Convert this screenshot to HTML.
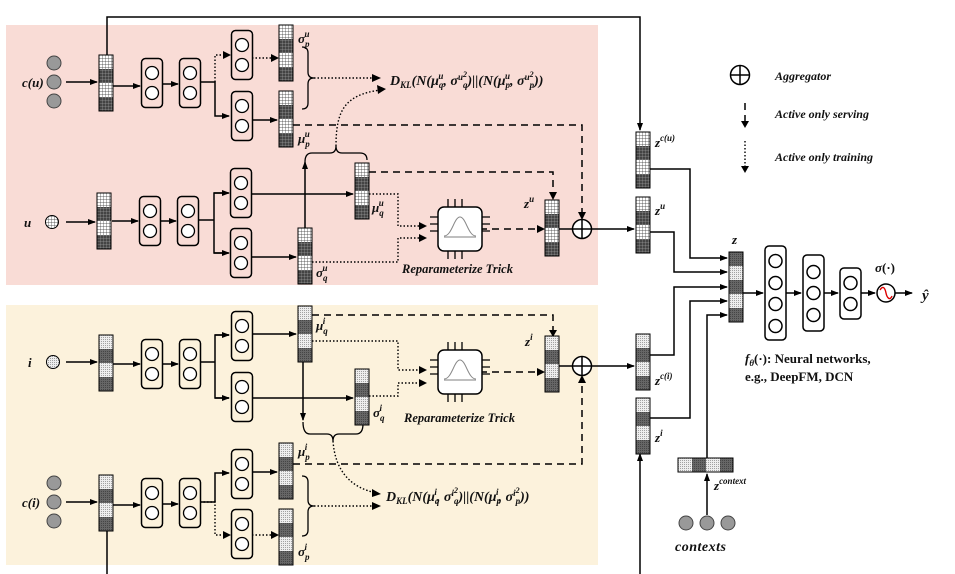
<!DOCTYPE html>
<html><head><meta charset="utf-8">
<style>
html,body{margin:0;padding:0;background:#fff;}
svg{display:block;font-family:"Liberation Serif",serif;}
.t{font-weight:bold;font-style:italic;}
</style></head><body>
<svg width="955" height="574" viewBox="0 0 955 574" xmlns="http://www.w3.org/2000/svg">
<defs>
<pattern id="wg" width="3" height="3" patternUnits="userSpaceOnUse"><rect width="3" height="3" fill="#fff"/><path d="M0 0H3M0 0V3" stroke="#333" stroke-width="0.7"/></pattern>
<pattern id="dg" width="3" height="3" patternUnits="userSpaceOnUse"><rect width="3" height="3" fill="#444"/><path d="M0 0H3M0 0V3" stroke="#bbb" stroke-width="0.5"/></pattern>
<pattern id="ld" width="2" height="2" patternUnits="userSpaceOnUse"><rect width="2" height="2" fill="#eee"/><rect width="0.8" height="0.8" fill="#777"/></pattern>
<pattern id="dd" width="2" height="2" patternUnits="userSpaceOnUse"><rect width="2" height="2" fill="#666"/><rect width="0.8" height="0.8" fill="#333"/></pattern>
<marker id="a" markerWidth="8" markerHeight="8" refX="7" refY="4" orient="auto" markerUnits="userSpaceOnUse"><path d="M0 1L8 4L0 7Z" fill="#000"/></marker>
<symbol id="vu" width="14" height="56" viewBox="0 0 14 56" overflow="visible">
<rect x="0" y="0" width="14" height="14" fill="url(#wg)"/><rect x="0" y="14" width="14" height="14" fill="url(#dg)"/><rect x="0" y="28" width="14" height="14" fill="url(#wg)"/><rect x="0" y="42" width="14" height="14" fill="url(#dg)"/>
<rect x="0" y="0" width="14" height="56" fill="none" stroke="#000" stroke-width="1"/></symbol>
<symbol id="vi" width="14" height="56" viewBox="0 0 14 56" overflow="visible">
<rect x="0" y="0" width="14" height="14" fill="url(#ld)"/><rect x="0" y="14" width="14" height="14" fill="url(#dd)"/><rect x="0" y="28" width="14" height="14" fill="url(#ld)"/><rect x="0" y="42" width="14" height="14" fill="url(#dd)"/>
<rect x="0" y="0" width="14" height="56" fill="none" stroke="#000" stroke-width="1"/></symbol>
<symbol id="nn" width="22" height="50" viewBox="0 0 22 50" overflow="visible">
<rect x="0.5" y="0.5" width="21" height="49" rx="4" fill="none" stroke="#000" stroke-width="1.5"/><circle cx="11" cy="15" r="6.5" fill="#fff" stroke="#000" stroke-width="1.3"/><circle cx="11" cy="35" r="6.5" fill="#fff" stroke="#000" stroke-width="1.3"/></symbol>
<symbol id="chip" width="60" height="60" viewBox="0 0 60 60" overflow="visible">
<path d="M18 0V8M25 0V8M32 0V8M18 52V60M25 52V60M32 52V60M0 18H8M0 25H8M0 32H8M52 18H60M52 25H60M52 32H60" stroke="#000" stroke-width="1.3"/>
<rect x="8" y="8" width="44" height="44" rx="6" fill="#fff" stroke="#000" stroke-width="1.5"/>
<path d="M14 38H46" stroke="#999" stroke-width="1.3"/><path d="M14 37C22 37 24 18 30 18S38 37 46 37" fill="none" stroke="#888" stroke-width="1"/></symbol>
<symbol id="ag" width="20" height="20" viewBox="0 0 20 20" overflow="visible"><circle cx="10" cy="10" r="9.5" fill="#fff" stroke="#000" stroke-width="1.5"/><path d="M0.5 10H19.5M10 0.5V19.5" stroke="#000" stroke-width="1.5"/></symbol>
</defs>

<rect x="6" y="25" width="592" height="260" fill="#f9dcd6"/>
<rect x="6" y="305" width="592" height="260" fill="#fcf2dc"/>

<g stroke="#000" stroke-width="1.5" fill="none">
<path d="M107 55V17H640V130" marker-end="url(#a)"/>
<path d="M66 82H97" marker-end="url(#a)"/>
<path d="M113 86H140" marker-end="url(#a)"/>
<path d="M163 84H178" marker-end="url(#a)"/>
<path d="M200 82H215V116H229" marker-end="url(#a)"/>
<path d="M252 120H277" marker-end="url(#a)"/>
<path d="M66 222H95" marker-end="url(#a)"/>
<path d="M112 221H138" marker-end="url(#a)"/>
<path d="M161 221H176" marker-end="url(#a)"/>
<path d="M199 220H214V193H228M214 220V253H228" />
<path d="M214 193H229" marker-end="url(#a)"/><path d="M214 253H229" marker-end="url(#a)"/>
<path d="M251 194H353" marker-end="url(#a)"/>
<path d="M251 257H296" marker-end="url(#a)"/>
<path d="M305 228V162" marker-end="url(#a)"/>
<path d="M305 162Q305 153 312 153H330Q336 153 336 146Q336 153 342 153H360Q367 153 367 160" stroke-width="1.3"/>
<path d="M559 229H572M592 229H634" marker-end="url(#a)"/>
<path d="M302 47Q308 47 308 53V72Q308 78 314 78Q308 78 308 84V103Q308 109 302 109" stroke-width="1.3"/>
<path d="M66 362H97" marker-end="url(#a)"/>
<path d="M113 364H140" marker-end="url(#a)"/>
<path d="M163 364H178" marker-end="url(#a)"/>
<path d="M200 362H215V335H229M215 362V398H229"/>
<path d="M215 335H229" marker-end="url(#a)"/><path d="M215 398H229" marker-end="url(#a)"/>
<path d="M252 334H296" marker-end="url(#a)"/>
<path d="M252 398H353" marker-end="url(#a)"/>
<path d="M303 361V420" marker-end="url(#a)"/>
<path d="M303 422Q303 434 310 434H327Q333 434 333 441Q333 434 339 434H356Q363 434 363 424" stroke-width="1.3"/>
<path d="M559 366H572M592 366H634" marker-end="url(#a)"/>
<path d="M66 502H97" marker-end="url(#a)"/>
<path d="M113 505H140" marker-end="url(#a)"/>
<path d="M163 504H178" marker-end="url(#a)"/>
<path d="M200 502H215V473H229" marker-end="url(#a)"/>
<path d="M252 472H277" marker-end="url(#a)"/>
<path d="M107 530V574"/>
<path d="M302 476Q308 476 308 482V500Q308 506 314 506Q308 506 308 512V530Q308 536 302 536" stroke-width="1.3"/>
<path d="M650 169H690V258H727" marker-end="url(#a)"/>
<path d="M650 232H674V272H727" marker-end="url(#a)"/>
<path d="M650 355H674V287H727" marker-end="url(#a)"/>
<path d="M650 418H690V301H727" marker-end="url(#a)"/>
<path d="M707 458V315H727" marker-end="url(#a)"/>
<path d="M640 574V454" marker-end="url(#a)"/>
<path d="M707 515V474" marker-end="url(#a)"/>
<path d="M743 293H763" marker-end="url(#a)"/>
<path d="M786 293H801" marker-end="url(#a)"/>
<path d="M824 293H838" marker-end="url(#a)"/>
<path d="M861 293H875" marker-end="url(#a)"/>
<path d="M895 293H912" marker-end="url(#a)"/>
</g>

<g stroke="#000" stroke-width="1.5" fill="none" stroke-dasharray="7,5">
<path d="M293 125H582V216" />
<path d="M369 172H553V196" />
<path d="M480 229H543"/>
<path d="M312 315H553V333"/>
<path d="M480 372H543"/>
<path d="M293 464H582V378"/>
<path d="M745 103V121"/>
</g>
<g fill="#000"><path d="M578 212L582 220L586 212Z"/><path d="M549 192L553 200L557 192Z"/><path d="M537 225L545 229L537 233Z"/><path d="M549 330L553 337L557 330Z"/><path d="M537 368L545 372L537 376Z"/><path d="M578 383L582 375L586 383Z"/><path d="M741 121L745 128L749 121Z"/></g>

<g stroke="#000" stroke-width="1.4" fill="none" stroke-dasharray="1.5,2">
<path d="M215 82V55H229"/>
<path d="M252 58H277"/>
<path d="M314 78H378"/>
<path d="M336 146C336 110 345 95 380 90"/>
<path d="M369 194H398V226H425"/>
<path d="M312 262H398V238H425"/>
<path d="M312 341H398V370H425"/>
<path d="M369 396H398V383H425"/>
<path d="M333 441C335 470 350 488 377 493"/>
<path d="M200 502H215V535H229"/>
<path d="M252 535H277"/>
<path d="M314 506H378"/>
<path d="M745 141V166"/>
</g>
<g fill="#000">
<path d="M223 51L231 55L223 59Z"/><path d="M271 54L279 58L271 62Z"/><path d="M372 74L381 78L372 82Z"/><path d="M377 85L386 89L378 94Z"/>
<path d="M419 222L427 226L419 230Z"/><path d="M419 234L427 238L419 242Z"/><path d="M419 366L427 370L419 374Z"/><path d="M419 379L427 383L419 387Z"/>
<path d="M372 489L381 494L372 497Z"/><path d="M223 531L231 535L223 539Z"/><path d="M271 531L279 535L271 539Z"/><path d="M372 502L381 506L372 510Z"/><path d="M741 166L745 173L749 166Z"/>
</g>

<g fill="#999" stroke="#444" stroke-width="1"><circle cx="54" cy="63" r="7"/><circle cx="54" cy="82" r="7"/><circle cx="54" cy="101" r="7"/>
<circle cx="54" cy="483" r="7"/><circle cx="54" cy="502" r="7"/><circle cx="54" cy="521" r="7"/>
<circle cx="686" cy="523" r="7"/><circle cx="707" cy="523" r="7"/><circle cx="728" cy="523" r="7"/></g>
<circle cx="52" cy="222" r="6.5" fill="url(#wg)" stroke="#000"/>
<circle cx="53" cy="362" r="6.5" fill="url(#ld)" stroke="#000"/>

<use href="#vu" x="99" y="55"/><use href="#vu" x="279" y="25"/><use href="#vu" x="279" y="91"/>
<use href="#vu" x="97" y="193"/><use href="#vu" x="355" y="163"/><use href="#vu" x="298" y="228"/>
<use href="#vu" x="545" y="200"/><use href="#vu" x="636" y="132"/><use href="#vu" x="636" y="197"/>
<use href="#vi" x="99" y="335"/><use href="#vi" x="298" y="306"/><use href="#vi" x="355" y="369"/>
<use href="#vi" x="545" y="336"/><use href="#vi" x="636" y="334"/><use href="#vi" x="636" y="398"/>
<use href="#vi" x="99" y="475"/><use href="#vi" x="279" y="443"/><use href="#vi" x="279" y="509"/>
<rect x="729" y="252" width="14" height="14" fill="url(#dd)"/><rect x="729" y="266" width="14" height="14" fill="url(#ld)"/><rect x="729" y="280" width="14" height="14" fill="url(#dd)"/><rect x="729" y="294" width="14" height="14" fill="url(#ld)"/><rect x="729" y="308" width="14" height="14" fill="url(#dd)"/>
<rect x="729" y="252" width="14" height="70" fill="none" stroke="#000"/>
<rect x="678" y="458" width="14" height="14" fill="url(#ld)"/><rect x="692" y="458" width="14" height="14" fill="url(#dd)"/><rect x="706" y="458" width="14" height="14" fill="url(#ld)"/><rect x="720" y="458" width="13" height="14" fill="url(#dd)"/>
<rect x="678" y="458" width="55" height="14" fill="none" stroke="#000"/>

<use href="#nn" x="141" y="58"/><use href="#nn" x="179" y="58"/><use href="#nn" x="231" y="30"/><use href="#nn" x="231" y="91"/>
<use href="#nn" x="139" y="196"/><use href="#nn" x="177" y="196"/><use href="#nn" x="230" y="168"/><use href="#nn" x="230" y="228"/>
<use href="#nn" x="141" y="339"/><use href="#nn" x="179" y="339"/><use href="#nn" x="231" y="311"/><use href="#nn" x="231" y="372"/>
<use href="#nn" x="141" y="478"/><use href="#nn" x="179" y="478"/><use href="#nn" x="231" y="449"/><use href="#nn" x="231" y="509"/>

<g stroke="#000" stroke-width="1.5" fill="#fff">
<rect x="765" y="246" width="21" height="94" rx="4"/>
<circle cx="775.5" cy="261" r="6.5"/><circle cx="775.5" cy="283" r="6.5"/><circle cx="775.5" cy="304" r="6.5"/><circle cx="775.5" cy="326" r="6.5"/>
<rect x="803" y="255" width="21" height="76" rx="4"/>
<circle cx="813.5" cy="272" r="6.5"/><circle cx="813.5" cy="293" r="6.5"/><circle cx="813.5" cy="315" r="6.5"/>
<rect x="840" y="268" width="21" height="51" rx="4"/>
<circle cx="850.5" cy="283" r="6.5"/><circle cx="850.5" cy="304" r="6.5"/>
<circle cx="886" cy="293" r="9"/>
</g>
<path d="M880 290C883 285 885 288 886 293S890 301 892 296" stroke="#d00" stroke-width="1.4" fill="none"/>

<use href="#chip" x="430" y="199"/><use href="#chip" x="430" y="342"/>
<use href="#ag" x="572" y="219"/><use href="#ag" x="572" y="356"/><use href="#ag" x="730" y="65"/>

<g class="t" font-size="13" fill="#111">
<text x="22" y="87">c(u)</text>
<text x="24" y="227">u</text>
<text x="28" y="367">i</text>
<text x="22" y="507">c(i)</text>
<text x="298" y="43">σ<tspan font-size="9" dy="4">p</tspan><tspan font-size="9" dx="-5" dy="-10">u</tspan></text>
<text x="298" y="143">μ<tspan font-size="9" dy="4">p</tspan><tspan font-size="9" dx="-5" dy="-10">u</tspan></text>
<text x="372" y="212">μ<tspan font-size="9" dy="4">q</tspan><tspan font-size="9" dx="-5" dy="-10">u</tspan></text>
<text x="316" y="277">σ<tspan font-size="9" dy="4">q</tspan><tspan font-size="9" dx="-5" dy="-10">u</tspan></text>
<text x="316" y="330">μ<tspan font-size="9" dy="4">q</tspan><tspan font-size="9" dx="-5" dy="-10">i</tspan></text>
<text x="373" y="417">σ<tspan font-size="9" dy="4">q</tspan><tspan font-size="9" dx="-5" dy="-10">i</tspan></text>
<text x="298" y="456">μ<tspan font-size="9" dy="4">p</tspan><tspan font-size="9" dx="-5" dy="-10">i</tspan></text>
<text x="298" y="556">σ<tspan font-size="9" dy="4">p</tspan><tspan font-size="9" dx="-5" dy="-10">i</tspan></text>
<text x="390" y="85" font-size="14">D<tspan font-size="9" dy="3">KL</tspan><tspan dy="-3">(N(μ</tspan><tspan font-size="9" dy="3">q</tspan><tspan font-size="9" dx="-5" dy="-9">u</tspan><tspan dy="6">, σ</tspan><tspan font-size="9" dy="-5">u</tspan><tspan font-size="8" dy="-3">2</tspan><tspan font-size="9" dx="-4" dy="11">q</tspan><tspan dy="-3">)||(N(μ</tspan><tspan font-size="9" dy="3">p</tspan><tspan font-size="9" dx="-5" dy="-9">u</tspan><tspan dy="6">, σ</tspan><tspan font-size="9" dy="-5">u</tspan><tspan font-size="8" dy="-3">2</tspan><tspan font-size="9" dx="-4" dy="11">p</tspan><tspan dy="-3">))</tspan></text>
<text x="386" y="501" font-size="14">D<tspan font-size="9" dy="3">KL</tspan><tspan dy="-3">(N(μ</tspan><tspan font-size="9" dy="3">q</tspan><tspan font-size="9" dx="-5" dy="-9">i</tspan><tspan dy="6">, σ</tspan><tspan font-size="9" dy="-5">i</tspan><tspan font-size="8" dy="-3">2</tspan><tspan font-size="9" dx="-4" dy="11">q</tspan><tspan dy="-3">)||(N(μ</tspan><tspan font-size="9" dy="3">p</tspan><tspan font-size="9" dx="-5" dy="-9">i</tspan><tspan dy="6">, σ</tspan><tspan font-size="9" dy="-5">i</tspan><tspan font-size="8" dy="-3">2</tspan><tspan font-size="9" dx="-4" dy="11">p</tspan><tspan dy="-3">))</tspan></text>
<text x="402" y="273" font-size="12.5">Reparameterize Trick</text>
<text x="404" y="422" font-size="12.5">Reparameterize Trick</text>
<text x="524" y="208">z<tspan font-size="9" dy="-6">u</tspan></text>
<text x="525" y="346">z<tspan font-size="9" dy="-6">i</tspan></text>
<text x="655" y="147">z<tspan font-size="9" dy="-6">c(u)</tspan></text>
<text x="655" y="215">z<tspan font-size="9" dy="-6">u</tspan></text>
<text x="655" y="385">z<tspan font-size="9" dy="-6">c(i)</tspan></text>
<text x="655" y="442">z<tspan font-size="9" dy="-6">i</tspan></text>
<text x="732" y="244">z</text>
<text x="714" y="490">z<tspan font-size="9" dy="-6">context</tspan></text>
<text x="675" y="551" font-size="14" letter-spacing="0.5">contexts</text>
<text x="775" y="80" font-size="12">Aggregator</text>
<text x="775" y="118" font-size="12">Active only serving</text>
<text x="775" y="161" font-size="12">Active only training</text>
<text x="875" y="272">σ<tspan font-style="normal">(·)</tspan></text>
<text x="922" y="300" font-size="15">ŷ</text>
</g>
<g font-weight="bold" font-size="13" fill="#111">
<text x="745" y="363"><tspan font-style="italic">f<tspan font-size="9" dy="3">θ</tspan></tspan><tspan dy="-3">(·): Neural networks,</tspan></text>
<text x="745" y="381">e.g., DeepFM, DCN</text>
</g>
</svg>
</body></html>
